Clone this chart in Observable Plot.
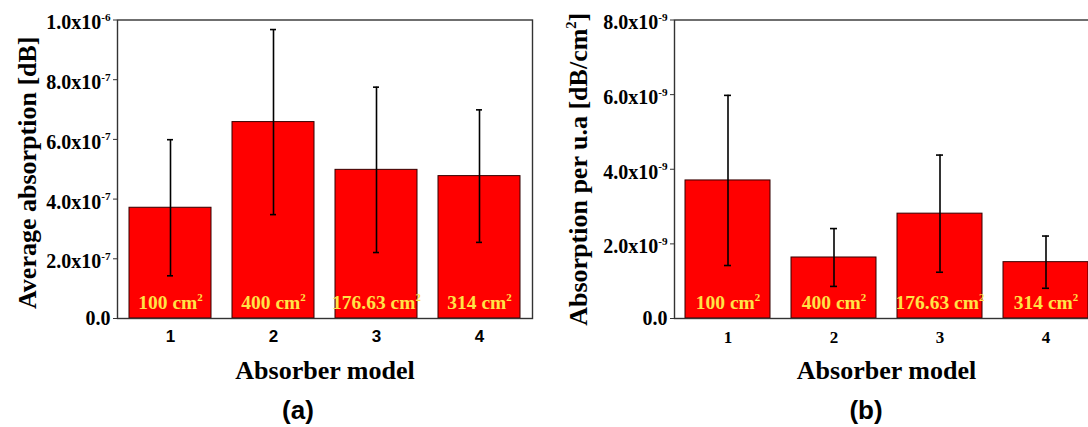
<!DOCTYPE html>
<html><head><meta charset="utf-8">
<script src="https://cdn.jsdelivr.net/npm/d3@7"></script>
<script src="https://cdn.jsdelivr.net/npm/@observablehq/plot@0.6"></script>
<style>
html,body{margin:0;padding:0;background:#fff;overflow:hidden;width:1088px;height:427px;}
#wrap{position:relative;width:1088px;height:427px;}
.panel{position:absolute;top:0;height:427px;overflow:hidden;}
.panel svg{max-width:none !important;}
.cap{position:absolute;font-family:"Liberation Sans",Arial,sans-serif;font-weight:bold;font-size:26px;line-height:1;transform:translate(-50%,-50%);}
</style></head><body>
<div id="wrap">
  <div class="panel" id="pa" style="left:0;width:544px"></div>
  <div class="panel" id="pb" style="left:544px;width:544px"></div>
  <div class="cap" style="left:298px;top:410px">(a)</div>
  <div class="cap" style="left:866px;top:410px">(b)</div>
</div>
<script>
// ---- data ----
const models = ["1", "2", "3", "4"];
const areaLabels = ["100 cm^{2}", "400 cm^{2}", "176.63 cm^{2}", "314 cm^{2}"];
const avgAbsorption = [3.71e-7, 6.58e-7, 4.98e-7, 4.77e-7];
const avgAbsorptionErr = [2.28e-7, 3.10e-7, 2.77e-7, 2.22e-7];
const absPerArea = [3.70e-9, 1.635e-9, 2.81e-9, 1.51e-9];
const absPerAreaErr = [2.28e-9, 0.775e-9, 1.57e-9, 0.70e-9];
const ticksA = [0, 2e-7, 4e-7, 6e-7, 8e-7, 1e-6];
const tickLabelsA = ["0.0", "2.0x10^{-7}", "4.0x10^{-7}", "6.0x10^{-7}", "8.0x10^{-7}", "1.0x10^{-6}"];
const ticksB = [0, 2e-9, 4e-9, 6e-9, 8e-9];
const tickLabelsB = ["0.0", "2.0x10^{-9}", "4.0x10^{-9}", "6.0x10^{-9}", "8.0x10^{-9}"];
const xTitle = "Absorber model";
const yTitleA = "Average absorption [dB]";
const yTitleB = "Absorption per u.a [dB/cm^{2}]";

const serif = '"Liberation Serif","Times New Roman",serif';
const sans = '"Liberation Sans",Arial,sans-serif';

// turn "a^{b}c" into tspans with a raised, smaller b
function supify(root) {
  root.querySelectorAll("text").forEach(t => {
    const s = t.textContent;
    if (!s.includes("^{")) return;
    const fs = parseFloat(getComputedStyle(t).fontSize);
    const isTick = t.closest('g[aria-label="y-axis tick label"]') !== null;
    const supFs = fs * 0.56, raise = fs * 0.42;
    while (t.firstChild) t.removeChild(t.firstChild);
    const re = /\^\{([^}]*)\}/g;
    let last = 0, m, first = true, pending = 0;
    const NS = "http://www.w3.org/2000/svg";
    while ((m = re.exec(s)) !== null) {
      const a = document.createElementNS(NS, "tspan");
      a.textContent = s.slice(last, m.index);
      const d = pending + (first && isTick ? 3 : 0);
      if (d) a.setAttribute("dy", d);
      t.appendChild(a);
      first = false;
      const b = document.createElementNS(NS, "tspan");
      b.textContent = m[1];
      b.setAttribute("dy", -raise);
      b.setAttribute("font-size", supFs);
      t.appendChild(b);
      pending = raise;
      last = m.index + m[0].length;
    }
    const rest = s.slice(last);
    if (rest) {
      const c = document.createElementNS(NS, "tspan");
      c.textContent = rest;
      c.setAttribute("dy", pending);
      t.appendChild(c);
    }
  });
}

// squeeze bar labels that would be wider than their bar
function fitLabels(root, maxW) {
  root.querySelectorAll('g[aria-label="bar-label"] text').forEach(t => {
    const w = t.getComputedTextLength();
    if (w > maxW) {
      const n = t.textContent.length;
      t.setAttribute("letter-spacing", ((maxW - w) / n).toFixed(2));
    }
  });
}

function panel(el, {values, errs, ticks, tickLabels, yMax, yTitle, xFont, xPad, width, marginLeft, marginRight, titleDx, titleDy, capInset}) {
  const rows = models.map((m, i) => ({model: m, v: values[i], lo: values[i] - errs[i], hi: values[i] + errs[i], label: areaLabels[i]}));
  const plot = Plot.plot({
    width, height: 390, marginTop: 19.5, marginBottom: 72, marginLeft, marginRight,
    style: {fontFamily: serif, fontWeight: "bold", fontSize: "20px", color: "#000", background: "#fff", overflow: "visible", maxWidth: "none"},
    x: {domain: models, paddingInner: 0.2, paddingOuter: 0.1, label: null, axis: null},
    y: {domain: [0, yMax], label: null, axis: null},
    marks: [
      Plot.barY(rows, {x: "model", y: "v", fill: "#ff0000", stroke: "#330000", strokeWidth: 1}),
      Plot.text(rows, {x: "model", y: 0, text: "label", fill: "#ffe347", fontSize: 19.5, fontFamily: serif, fontWeight: "bold", lineAnchor: "bottom", dy: -9.5, ariaLabel: "bar-label"}),
      Plot.ruleX(rows, {x: "model", y1: "lo", y2: "hi", stroke: "#000", strokeWidth: 1.6}),
      Plot.tickY(rows, {x: "model", y: "hi", stroke: "#000", strokeWidth: 1.6, inset: capInset}),
      Plot.tickY(rows, {x: "model", y: "lo", stroke: "#000", strokeWidth: 1.6, inset: capInset}),
      Plot.frame({stroke: "#333", strokeWidth: 1.4}),
      Plot.axisY({ticks, tickFormat: d => tickLabels[ticks.indexOf(d)], tickSize: 4, tickPadding: 3, fontSize: 20, label: null, stroke: "#333"}),
      Plot.axisX({tickSize: 0, tickPadding: xPad, fontSize: 17, fontFamily: xFont, label: null}),
      Plot.text([yTitle], {text: d => d, frameAnchor: "left", dx: titleDx, dy: titleDy, rotate: -90, fontSize: 26, lineAnchor: "middle", textAnchor: "middle"}),
      Plot.text([xTitle], {text: d => d, frameAnchor: "bottom", dy: 60, fontSize: 26, lineAnchor: "bottom", textAnchor: "middle"})
    ]
  });
  el.appendChild(plot);
  supify(plot);
  fitLabels(plot, 81);
  return plot;
}

panel(document.getElementById("pa"), {
  values: avgAbsorption, errs: avgAbsorptionErr, ticks: ticksA, tickLabels: tickLabelsA, yMax: 1e-6,
  yTitle: yTitleA, xFont: sans, xPad: 11, width: 544, marginLeft: 117, marginRight: 12, titleDx: -90, titleDy: 3.5, capInset: 38
});
panel(document.getElementById("pb"), {
  values: absPerArea, errs: absPerAreaErr, ticks: ticksB, tickLabels: tickLabelsB, yMax: 8e-9,
  yTitle: yTitleB, xFont: serif, xPad: 12, width: 560, marginLeft: 130, marginRight: 6, titleDx: -96, titleDy: 0, capInset: 39
});
</script>
</body></html>
